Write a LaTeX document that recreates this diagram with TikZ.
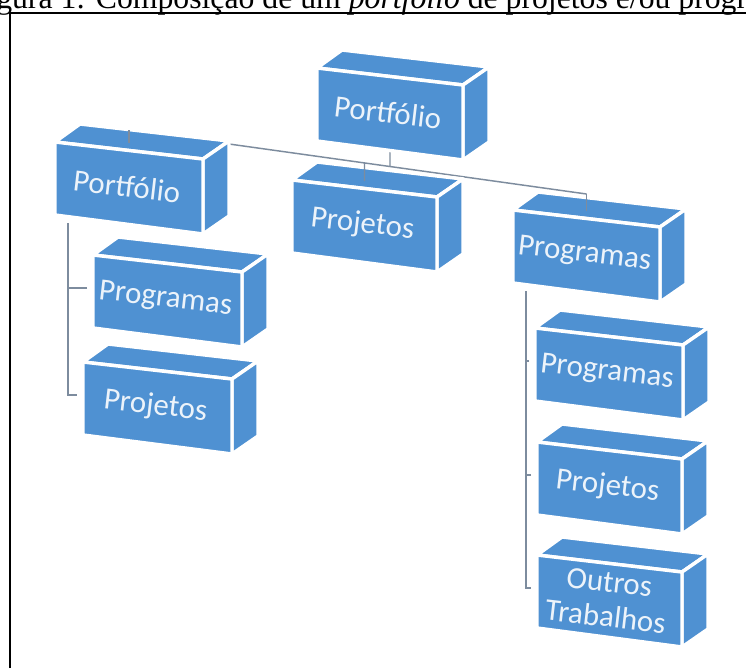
\documentclass[tikz,border=0pt]{standalone}
\usepackage{fontspec}
\setmainfont{Liberation Serif}
\newfontfamily\boxfont{Carlito}
\usetikzlibrary{calc}

\definecolor{boxblue}{RGB}{79,145,210}
\definecolor{boxtext}{RGB}{236,243,250}
\definecolor{linkgrey}{RGB}{125,140,158}

\pgfdeclarelayer{paper}
\pgfdeclarelayer{links}
\pgfsetlayers{paper,links,main}

\tikzset{
  face/.style={fill=boxblue, draw=white, line width=2.6pt, line join=round},
  lbl/.style={font=\boxfont\fontsize{23.2}{26}\selectfont, text=boxtext,
              align=center, inner sep=0pt, rotate=-6.6},
  link/.style={draw=linkgrey, line width=1.1pt},
}

% 3D box: name, x, y (front top-left corner), front width, label
\newcommand{\cuboid}[5]{%
  \begin{scope}[shift={(#2,#3)}]
    \path[face] (0,0) -- (#4,17) -- ({#4+26},-1) -- (25,-18) -- cycle;
    \path[face] (#4,17) -- ({#4+26},-1) -- ({#4+26},74) -- (#4,92) -- cycle;
    \path[face] (0,0) -- (#4,17) -- (#4,92) -- (0,73) -- cycle;
    \node[lbl] (#1) at ({#4/2-2},44.5) {#5};
    \coordinate (#1-in)   at ({#4/2},1);
    \coordinate (#1-bot)  at ({#4/2},82.5);
    \coordinate (#1-stem) at (13,81);
    \coordinate (#1-lt)   at (-6,33);
  \end{scope}}

\begin{document}
\begin{tikzpicture}[x=0.75pt, y=-0.75pt]
  \useasboundingbox (0,0) rectangle (746,668);
  \begin{pgfonlayer}{paper}
    \fill[white] (0,0) rectangle (746,668);
  \end{pgfonlayer}

  % caption line and frame
  \node[anchor=base west, inner sep=0pt, font=\fontsize{23.8}{28}\selectfont] (cap)
    at (-4,8) {gura 1: Composição de um \textit{portfolio} de projetos e/ou progra};
  \draw[line width=1.5pt] (9.5,668) -- (9.5,13) -- (746,13);

  % boxes
  \cuboid{A}{317}{68}{146}{Portfólio}
  \cuboid{B}{55}{142}{148}{Portfólio}
  \cuboid{C}{292}{180}{145}{Projetos}
  \cuboid{D}{513}{210}{147}{Programas}
  \cuboid{E}{93}{255}{149}{Programas}
  \cuboid{F}{83}{362}{149}{Projetos}
  \cuboid{G}{535}{328}{148}{Programas}
  \cuboid{H}{537}{442}{145}{Projetos}
  \cuboid{I}{537}{555}{145}{Outros\\Trabalhos}

  % junctions on the sloping bus
  \coordinate (jB) at ($(B-in)+(0,-13)$);
  \coordinate (jD) at ($(D-in)+(0,-17)$);
  \coordinate (jA) at (intersection of jB--jD and A-in--A-bot);
  \coordinate (jC) at (intersection of jB--jD and C-in--C-bot);

  \begin{pgfonlayer}{links}
    \draw[link] (jB) -- (jD);
    \draw[link] (A-bot) -- (jA);
    \draw[link] (B-stem) |- (F-lt);
    \draw[link] (E-lt) -- (E-lt -| B-stem);
    \draw[link] (D-stem) |- (I-lt);
    \draw[link] (G-lt) -- (G-lt -| D-stem);
    \draw[link] (H-lt) -- (H-lt -| D-stem);
  \end{pgfonlayer}

  % drops onto the top faces
  \draw[link] (jB) -- (B-in);
  \draw[link] (jC) -- (C-in);
  \draw[link] (jD) -- (D-in);
\end{tikzpicture}
\end{document}
